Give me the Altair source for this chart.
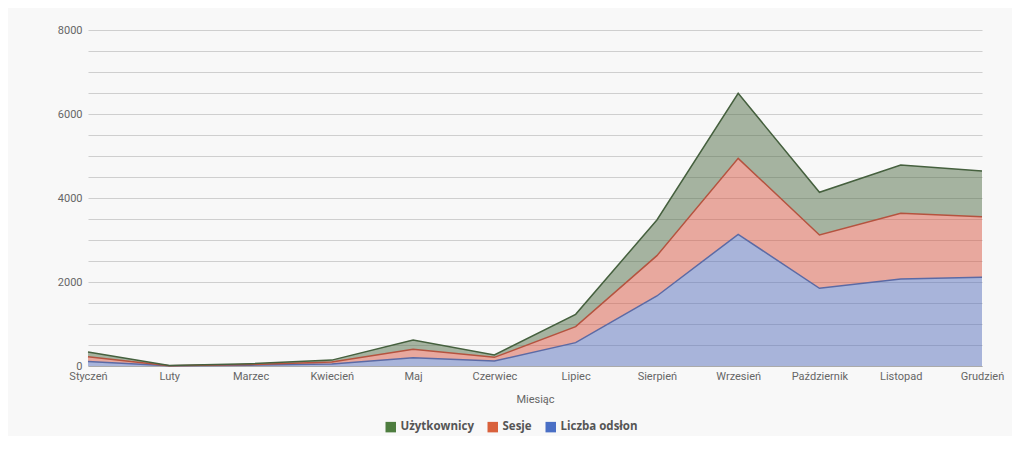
import altair as alt
import pandas as pd

months = ["Styczeń", "Luty", "Marzec", "Kwiecień", "Maj", "Czerwiec",
          "Lipiec", "Sierpień", "Wrzesień", "Październik", "Listopad", "Grudzień"]
series = ["Użytkownicy", "Sesje", "Liczba odsłon"]
odslony = [110, 5, 20, 50, 198, 119, 556, 1667, 3135, 1849, 2071, 2111]
sesje = [110, 3, 15, 45, 200, 87, 381, 960, 1809, 1270, 1564, 1445]
uzytkownicy = [113, 4, 20, 45, 221, 56, 293, 849, 1548, 1016, 1151, 1087]
y_ticks = list(range(0, 8001, 500))

legend_colors = ["#4e7d3f", "#d9613c", "#4a6fc5"]
# fill and stroke scales use a different domain order (so their hidden legends stay separate)
fill_domain = ["Liczba odsłon", "Sesje", "Użytkownicy"]
fill_colors = ["#5870bc", "#d85844", "#526e48"]
stroke_domain = ["Sesje", "Liczba odsłon", "Użytkownicy"]
line_colors = ["#b5533f", "#5b6aa5", "#45603e"]

rows = []
for name, vals, ordv in [("Liczba odsłon", odslony, 0), ("Sesje", sesje, 1), ("Użytkownicy", uzytkownicy, 2)]:
    for m, v in zip(months, vals):
        rows.append({"month": m, "series": name, "value": v, "ord": ordv})
df = pd.DataFrame(rows)

base = alt.Chart(df).transform_stack(
    stack="value", groupby=["month"], as_=["y0", "y1"],
    sort=[alt.SortField("ord", order="ascending")]
)

x = alt.X("month:N", sort=months, scale=alt.Scale(type="point", padding=0),
          axis=alt.Axis(title="Miesiąc", labelAngle=0, grid=False, ticks=False,
                        domainColor="#aaaaaa", labelColor="#666666", labelFontSize=11,
                        labelFont="Roboto", titleFont="Roboto", titleFontSize=11,
                        titleFontWeight="normal", titleColor="#666666", titlePadding=12,
                        labelPadding=4))
y = alt.Y("y1:Q", scale=alt.Scale(domain=[0, 8000], nice=False),
          axis=alt.Axis(title=None, values=y_ticks, tickCount=len(y_ticks),
                        labelExpr="datum.value % 2000 == 0 ? datum.label : ''",
                        format="d", domain=False, ticks=False, gridColor="#cfcfcf",
                        labelColor="#666666", labelFontSize=11, labelFont="Roboto",
                        labelPadding=6))

leg = base.transform_filter("datum.value < 0").mark_square(size=100, opacity=1).encode(
    x=x, y=y,
    color=alt.Color("series:N", scale=alt.Scale(domain=series, range=legend_colors),
                    legend=alt.Legend(title=None, orient="none", legendX=297, legendY=391,
                                      direction="horizontal", symbolType="square",
                                      symbolSize=110, symbolOpacity=1, symbolStrokeWidth=0,
                                      labelFont="Open Sans", labelFontWeight="bold",
                                      labelFontSize=11.5, labelColor="#555555",
                                      columnPadding=13, labelOffset=4)),
)
area = base.mark_area(fillOpacity=0.5).encode(
    x=x, y="y1:Q", y2="y0:Q",
    fill=alt.Fill("series:N", scale=alt.Scale(domain=fill_domain, range=fill_colors), legend=None),
    order=alt.Order("ord:Q"),
)
line = base.mark_line(strokeWidth=1.5).encode(
    x=x, y="y1:Q",
    stroke=alt.Stroke("series:N", scale=alt.Scale(domain=stroke_domain, range=line_colors), legend=None),
)

chart = alt.layer(leg, area, line).properties(
    width=894, height=336,
    autosize=alt.AutoSizeParams(type="none"),
    padding={"left": 80, "top": 22, "right": 30, "bottom": 70},
    background="#f8f8f8",
).configure_view(stroke=None)

chart.save("out.html", embed_options={"renderer": "svg", "actions": False})
